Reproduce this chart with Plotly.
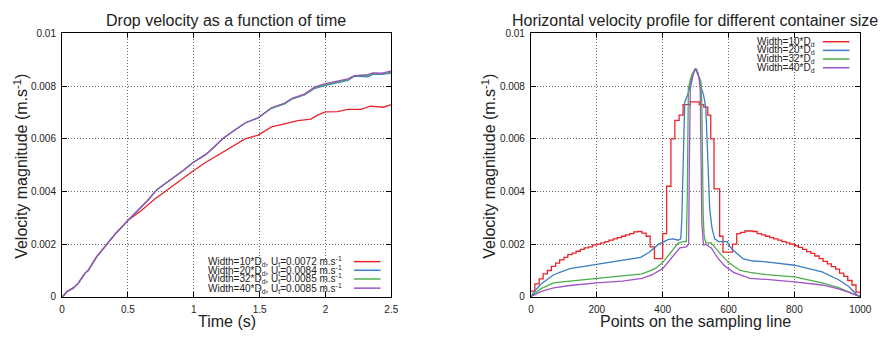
import plotly.graph_objects as go

W, H = 888, 339

# ---------------- Left chart data ----------------
t_up = [0, 0.012, 0.037, 0.087, 0.124, 0.174, 0.2, 0.26, 0.32, 0.4, 0.5, 0.585, 0.647, 0.72,
        0.82, 0.92, 0.995, 1.09, 1.157, 1.22, 1.29, 1.39, 1.49, 1.59, 1.69, 1.75, 1.84, 1.92,
        2.0, 2.1, 2.17, 2.22, 2.32, 2.36, 2.43, 2.5]
v_w40 = [0, 0.00004, 0.0002, 0.00034, 0.00052, 0.00089, 0.00101, 0.0015, 0.00187, 0.00236, 0.0029,
         0.00333, 0.00364, 0.00407, 0.00443, 0.0048, 0.0051, 0.0054, 0.0057, 0.006, 0.00626, 0.0066,
         0.0068, 0.00718, 0.00736, 0.00755, 0.0077, 0.00797, 0.0081, 0.0082, 0.00828, 0.0084,
         0.00844, 0.0085, 0.00849, 0.00858]
v_w20 = [0, 0.00004, 0.0002, 0.00034, 0.00052, 0.00089, 0.00101, 0.0015, 0.00187, 0.00236, 0.0029,
         0.00333, 0.00364, 0.00407, 0.00443, 0.0048, 0.0051, 0.0054, 0.0057, 0.006, 0.00626, 0.0066,
         0.0068, 0.00716, 0.00733, 0.00752, 0.00767, 0.00792, 0.00803, 0.00815, 0.00822, 0.00838,
         0.00835, 0.00845, 0.00845, 0.0085]
v_w32 = [0, 0.00004, 0.0002, 0.00034, 0.00052, 0.00089, 0.00101, 0.0015, 0.00187, 0.00236, 0.0029,
         0.00333, 0.00364, 0.00407, 0.00443, 0.0048, 0.0051, 0.0054, 0.0057, 0.006, 0.00626, 0.0066,
         0.0068, 0.00717, 0.00734, 0.00753, 0.00768, 0.00794, 0.00806, 0.00817, 0.00825, 0.0084,
         0.0084, 0.00848, 0.00847, 0.00853]
t_w10 = [0, 0.012, 0.037, 0.087, 0.124, 0.174, 0.2, 0.26, 0.32, 0.4, 0.5, 0.6, 0.7, 0.8, 0.92,
         1.0, 1.09, 1.19, 1.29, 1.39, 1.49, 1.59, 1.69, 1.79, 1.89, 1.94, 2.0, 2.09, 2.17, 2.27,
         2.34, 2.44, 2.5]
v_w10 = [0, 0.00004, 0.0002, 0.00034, 0.00052, 0.00089, 0.00101, 0.0015, 0.00187, 0.00236, 0.0029,
         0.00327, 0.0037, 0.00407, 0.0045, 0.0048, 0.0051, 0.0054, 0.0057, 0.006, 0.00614, 0.00645,
         0.00657, 0.00669, 0.00675, 0.0069, 0.00702, 0.00703, 0.00712, 0.00712, 0.00724, 0.0072,
         0.0073]

# ---------------- Right chart data ----------------
p_w10 = [0, 12, 25, 37, 50, 62, 75, 87, 100, 112, 125, 137, 150, 162, 175, 187, 200, 212, 225,
         237, 250, 262, 275, 287, 300, 312, 325, 337, 350, 362, 375, 400, 412, 425, 437, 450, 462,
         484, 511, 525, 537, 546, 556, 573, 583, 612, 625, 637, 650, 675, 687, 700, 712, 725, 737,
         750, 762, 775, 787, 800, 812, 825, 837, 850, 862, 875, 887, 900, 912, 925, 937, 950, 962,
         975, 987, 1000]
h_w10 = [0.00022, 0.00049, 0.00068, 0.00087, 0.0010, 0.00116, 0.00128, 0.0014, 0.0015, 0.0016,
         0.00166, 0.00173, 0.0018, 0.00186, 0.0019, 0.00197, 0.0020, 0.00205, 0.0021, 0.00215,
         0.0022, 0.00225, 0.0023, 0.00235, 0.0024, 0.00247, 0.00248, 0.00242, 0.0023, 0.0019,
         0.00145, 0.0024, 0.0042, 0.0060, 0.0067, 0.0069, 0.0073, 0.0074, 0.0073, 0.0072, 0.0069,
         0.0060, 0.0041, 0.0023, 0.0017, 0.0020, 0.0024, 0.00245, 0.0025, 0.00248, 0.0024, 0.00235,
         0.0023, 0.00225, 0.0022, 0.00215, 0.0021, 0.00205, 0.0020, 0.00194, 0.00188, 0.0018,
         0.00172, 0.00165, 0.00155, 0.00145, 0.00135, 0.00125, 0.00115, 0.00105, 0.0009, 0.00078,
         0.00062, 0.00045, 0.00018, 0.0001]

p_w20 = [0, 10, 29, 69, 118, 200, 278, 333, 358, 388, 418, 432, 447, 455, 458, 460, 462, 464, 467,
         477, 487, 492, 499, 507, 516, 524, 531, 534, 536, 538, 543, 550, 558, 570, 596, 600, 615,
         645, 675, 715, 800, 884, 934, 964, 988, 1000]
h_w20 = [0, 0.0002, 0.00047, 0.00084, 0.00107, 0.00124, 0.00138, 0.0015, 0.00168, 0.002, 0.00218,
         0.0022, 0.00215, 0.0022, 0.0029, 0.0039, 0.0055, 0.0067, 0.0074, 0.0077, 0.0082, 0.0085,
         0.00865, 0.0085, 0.0080, 0.00767, 0.0072, 0.0062, 0.0052, 0.0043, 0.0033, 0.0026, 0.0022,
         0.0021, 0.0021, 0.00197, 0.00176, 0.00144, 0.00136, 0.00133, 0.0012, 0.00095, 0.00065,
         0.0004, 0.0001, 0]

p_w32 = [0, 10, 29, 69, 118, 200, 278, 337, 357, 377, 400, 427, 447, 462, 472, 475, 478, 485, 491,
         499, 508, 516, 519, 521, 523, 526, 531, 547, 557, 576, 600, 635, 665, 715, 800, 884, 934,
         964, 988, 1000]
h_w32 = [0, 0.00012, 0.0003, 0.00053, 0.0006, 0.0007, 0.00079, 0.00087, 0.00097, 0.00107, 0.0013,
         0.0017, 0.00204, 0.0021, 0.0021, 0.004, 0.0079, 0.0083, 0.0085, 0.00865, 0.0084, 0.0082,
         0.0073, 0.0045, 0.0031, 0.0023, 0.00205, 0.00205, 0.0019, 0.00162, 0.0013, 0.001, 0.00093,
         0.00084, 0.00076, 0.00053, 0.00035, 0.0002, 0.00005, 0]

p_w40 = [0, 10, 29, 69, 118, 200, 278, 337, 367, 400, 427, 452, 472, 479, 481, 484, 492, 499, 503,
         511, 514, 517, 519, 524, 531, 541, 547, 566, 586, 615, 665, 715, 800, 884, 934, 964, 988,
         1000]
h_w40 = [0, 0.00008, 0.0002, 0.00034, 0.00043, 0.00053, 0.0006, 0.0007, 0.00083, 0.00107, 0.0015,
         0.00186, 0.0019, 0.002, 0.005, 0.0079, 0.0084, 0.00865, 0.00865, 0.0083, 0.0078, 0.005,
         0.0028, 0.00197, 0.002, 0.0019, 0.00187, 0.0015, 0.0012, 0.00093, 0.0007, 0.00066, 0.00057,
         0.00045, 0.0003, 0.00018, 0.00005, 0]

# ---------------- Labels / ticks ----------------
y_ticks = [0, 0.002, 0.004, 0.006, 0.008, 0.01]
y_ticktext = ["0", "0.002", "0.004", "0.006", "0.008", "0.01"]
x1_ticks = [0, 0.5, 1, 1.5, 2, 2.5]
x1_ticktext = ["0", "0.5", "1", "1.5", "2", "2.5"]
x2_ticks = [0, 200, 400, 600, 800, 1000]
x2_ticktext = ["0", "200", "400", "600", "800", "1000"]

left_legend = [
    "Width=10*D<sub>d</sub>, U<sub>t</sub>=0.0072 m.s<sup>-1</sup>",
    "Width=20*D<sub>d</sub>, U<sub>t</sub>=0.0084 m.s<sup>-1</sup>",
    "Width=32*D<sub>d</sub>, U<sub>t</sub>=0.0085 m.s<sup>-1</sup>",
    "Width=40*D<sub>d</sub>, U<sub>t</sub>=0.0085 m.s<sup>-1</sup>",
]
right_legend = [
    "Width=10*D<sub>d</sub>",
    "Width=20*D<sub>d</sub>",
    "Width=32*D<sub>d</sub>",
    "Width=40*D<sub>d</sub>",
]
colors = ["#e8252a", "#3b7dc4", "#4aae4a", "#a052c8"]

FONT = "Liberation Sans, Arial, sans-serif"
TXT = "#222"

# plot areas in pixels
L_X0, L_X1 = 60, 395
R_X0, R_X1 = 537, 872
Y_TOP, Y_BOT = 28.5, 301.5


def px(x):
    return x / W


def py(y):
    return 1 - y / H


fig = go.Figure()

left_series = [(t_w10, v_w10), (t_up, v_w20), (t_up, v_w32), (t_up, v_w40)]
for (xs, ys), c in zip(left_series, colors):
    fig.add_trace(go.Scatter(x=xs, y=ys, mode="lines", line=dict(color=c, width=1.3),
                             xaxis="x", yaxis="y", showlegend=False))

right_series = [(p_w10, h_w10, "hv"), (p_w20, h_w20, "linear"),
                (p_w32, h_w32, "linear"), (p_w40, h_w40, "linear")]
for (xs, ys, shp), c in zip(right_series, colors):
    fig.add_trace(go.Scatter(x=xs, y=ys, mode="lines", line=dict(color=c, width=1.3, shape=shp),
                             xaxis="x2", yaxis="y2", showlegend=False))

axis_common = dict(
    showline=True, linecolor="black", linewidth=1, mirror="allticks",
    ticks="inside", ticklen=5, tickcolor="black", tickwidth=1,
    showgrid=True, gridcolor="#666", griddash="1px,2px", gridwidth=1,
    zeroline=False, tickfont=dict(family=FONT, size=10, color=TXT),
    ticklabelstandoff=3,
)

fig.update_layout(
    width=W, height=H, margin=dict(l=0, r=0, t=0, b=0),
    paper_bgcolor="white", plot_bgcolor="white",
    font=dict(family=FONT, color=TXT),
    xaxis=dict(domain=[px(L_X0), px(L_X1)], range=[0, 2.5], tickvals=x1_ticks,
               ticktext=x1_ticktext, anchor="y", **axis_common),
    yaxis=dict(domain=[py(Y_BOT), py(Y_TOP)], range=[0, 0.01], tickvals=y_ticks,
               ticktext=y_ticktext, anchor="x", **axis_common),
    xaxis2=dict(domain=[px(R_X0), px(R_X1)], range=[0, 1000], tickvals=x2_ticks,
                ticktext=x2_ticktext, anchor="y2", **axis_common),
    yaxis2=dict(domain=[py(Y_BOT), py(Y_TOP)], range=[0, 0.01], tickvals=y_ticks,
                ticktext=y_ticktext, anchor="x2", **axis_common),
)

ann = []
shapes = []
# titles
ann.append(dict(text="Drop velocity as a function of time", x=px(227), y=py(15),
                font=dict(size=16, family=FONT, color=TXT)))
ann.append(dict(text="Horizontal velocity profile for different container size", x=px(704),
                y=py(15), font=dict(size=16, family=FONT, color=TXT)))
# axis titles
ann.append(dict(text="Time (s)", x=px(228), y=py(327), font=dict(size=16, family=FONT, color=TXT)))
ann.append(dict(text="Points on the sampling line", x=px(704), y=py(327),
                font=dict(size=16, family=FONT, color=TXT)))
ann.append(dict(text="Velocity magnitude (m.s<sup>-1</sup>)", x=px(18), y=py(166), textangle=-90,
                font=dict(size=16, family=FONT, color=TXT)))
ann.append(dict(text="Velocity magnitude (m.s<sup>-1</sup>)", x=px(494), y=py(166), textangle=-90,
                font=dict(size=16, family=FONT, color=TXT)))

# legends
left_rows = [265, 274, 283, 292.5]
for txt, yy, c in zip(left_legend, left_rows, colors):
    ann.append(dict(text=txt, x=px(347), y=py(yy), xanchor="right",
                    font=dict(size=10, family=FONT, color=TXT)))
    shapes.append(dict(type="line", xref="paper", yref="paper", x0=px(357), x1=px(384),
                       y0=py(yy), y1=py(yy), line=dict(color=c, width=1.5)))
right_rows = [37, 46, 55, 64]
for txt, yy, c in zip(right_legend, right_rows, colors):
    ann.append(dict(text=txt, x=px(828), y=py(yy), xanchor="right",
                    font=dict(size=10, family=FONT, color=TXT)))
    shapes.append(dict(type="line", xref="paper", yref="paper", x0=px(834), x1=px(861),
                       y0=py(yy), y1=py(yy), line=dict(color=c, width=1.5)))

for a in ann:
    a.setdefault("xref", "paper")
    a.setdefault("yref", "paper")
    a.setdefault("showarrow", False)
    a.setdefault("xanchor", "center")
    a.setdefault("yanchor", "middle")

fig.update_layout(annotations=ann, shapes=shapes)
fig.write_html(
    "out.html",
    config={"displayModeBar": False, "responsive": False},
    post_script="document.body.style.margin='0';document.body.style.padding='0';"
                "document.body.style.overflow='hidden';",
)
